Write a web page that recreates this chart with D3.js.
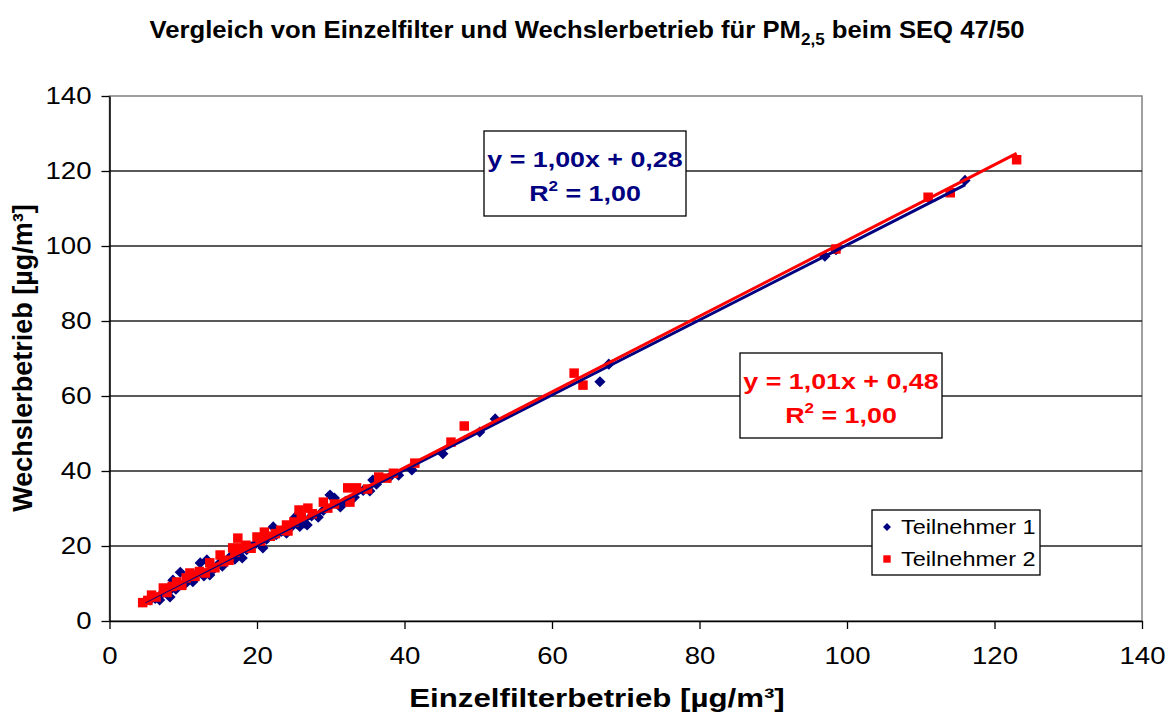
<!DOCTYPE html>
<html>
<head>
<meta charset="utf-8">
<script src="https://cdn.jsdelivr.net/npm/d3@7"></script>
<style>
  body { margin: 0; background: #fff; }
  text { font-family: Arial, "Liberation Sans", sans-serif; }
</style>
</head>
<body>
<div id="canvas"></div>
<script>
"use strict";

// Canvas dimensions
let svgWidth = 1170;
let svgHeight = 714;
let margin = { left: 109.5, right: 28, top: 96, bottom: 93 };

// Data: [Einzelfilter, Wechsler]
let teilnehmer1 = [
    [4.8, 5.2], [5.5, 5.6], [6.2, 6.0], [6.8, 5.6], [7.2, 7.5], [8.0, 7.8], [8.2, 6.4],
    [8.6, 10.9], [9.0, 8.5], [9.6, 13.0], [10.2, 9.8], [10.8, 11.2], [11.3, 10.5],
    [11.8, 12.5], [12.3, 15.5], [12.8, 12.0], [13.2, 16.3], [13.6, 12.3], [14.2, 14.0],
    [14.8, 15.2], [15.3, 14.6], [15.9, 16.0], [16.4, 17.2], [17.0, 16.5], [17.5, 18.3],
    [18.0, 16.8], [18.6, 19.0], [19.2, 19.8], [19.7, 20.4], [20.3, 21.0], [20.8, 19.5],
    [21.3, 21.8], [22.2, 25.1], [22.6, 23.0], [23.3, 23.9], [24.0, 23.4], [24.5, 24.8],
    [25.2, 27.7], [25.4, 26.0], [25.8, 25.2], [26.5, 26.1], [26.8, 25.6], [27.4, 28.0],
    [28.3, 27.7], [29.0, 29.5], [29.9, 33.6], [30.5, 32.8], [31.3, 30.4], [32.0, 31.9],
    [33.2, 33.0], [34.4, 34.8], [35.3, 34.7], [35.7, 37.6], [36.2, 36.5], [38.0, 38.4],
    [39.2, 38.9], [41.0, 40.3], [45.2, 44.6], [50.2, 50.4], [52.3, 53.9], [66.5, 63.8],
    [67.7, 68.5], [97.0, 97.3], [98.5, 99.0], [116.0, 117.5]
];

let teilnehmer2 = [
    [4.5, 4.9], [5.2, 5.5], [5.7, 6.9], [6.3, 6.4], [7.3, 8.8], [7.8, 7.6], [8.5, 9.2],
    [9.1, 10.4], [9.8, 9.5], [10.4, 11.5], [10.9, 12.8], [11.6, 11.9], [12.2, 13.2],
    [13.0, 12.8], [13.6, 15.5], [14.3, 14.2], [15.0, 17.6], [15.5, 15.8], [16.2, 16.2],
    [16.7, 19.5], [17.0, 18.3], [17.4, 22.1], [17.9, 19.5], [18.5, 20.2], [19.2, 19.4],
    [20.0, 22.4], [20.5, 21.3], [21.0, 23.7], [21.8, 22.6], [22.5, 23.3], [23.2, 24.2],
    [24.0, 25.6], [24.2, 24.0], [25.0, 26.4], [25.7, 29.6], [26.0, 27.7], [26.9, 30.1],
    [27.5, 28.6], [29.0, 31.7], [29.6, 30.1], [30.5, 31.2], [32.3, 35.5], [32.6, 31.7],
    [33.5, 35.5], [35.0, 35.2], [36.5, 38.4], [37.6, 38.1], [38.5, 39.4], [41.4, 42.1],
    [46.3, 47.7], [48.1, 52.0], [63.0, 66.1], [64.2, 62.9], [98.5, 99.2], [111.0, 113.0],
    [114.0, 114.2], [123.0, 123.0]
];

// Trend lines: slope, intercept, x range
let trend1 = { slope: 1.00, intercept: 0.28, xMin: 4.8, xMax: 116.0 };
let trend2 = { slope: 1.01, intercept: 0.48, xMin: 4.5, xMax: 123.0 };

let tickValues = [0, 20, 40, 60, 80, 100, 120, 140];

let svg = d3.select("#canvas")
    .append("svg")
    .attr("width", svgWidth)
    .attr("height", svgHeight);

// widen text horizontally (the original looks stretched)
function stretch(sel, s, origin) {
    sel.style("transform-box", "fill-box")
        .style("transform-origin", origin || "center")
        .style("transform", `scaleX(${s})`);
}

// Scales
let xScale = d3.scaleLinear()
    .domain([0, 140])
    .range([margin.left, svgWidth - margin.right]);

let yScale = d3.scaleLinear()
    .domain([0, 140])
    .range([svgHeight - margin.bottom, margin.top]);

let plotW = xScale(140) - xScale(0);
let plotH = yScale(0) - yScale(140);

// Plot border
svg.append("rect")
    .attr("x", xScale(0))
    .attr("y", yScale(140))
    .attr("width", plotW)
    .attr("height", plotH)
    .attr("fill", "white")
    .attr("stroke", "#808080")
    .attr("stroke-width", 1.5);

// Gridlines
svg.selectAll("line.grid")
    .data(tickValues.filter(d => d > 0 && d < 140))
    .join("line")
    .attr("class", "grid")
    .attr("x1", xScale(0))
    .attr("x2", xScale(140))
    .attr("y1", d => yScale(d))
    .attr("y2", d => yScale(d))
    .attr("stroke", "#222")
    .attr("stroke-width", 1.3);

// Axes
let xAxis = svg.append("g")
    .attr("transform", `translate(0,${yScale(0)})`)
    .call(d3.axisBottom(xScale).tickValues(tickValues).tickSize(8).tickSizeOuter(0).tickPadding(19));

let yAxis = svg.append("g")
    .attr("transform", `translate(${xScale(0)},0)`)
    .call(d3.axisLeft(yScale).tickValues(tickValues).tickSize(8).tickSizeOuter(0).tickPadding(10));

[xAxis, yAxis].forEach(a => {
    a.select(".domain").attr("stroke", "#000").attr("stroke-width", 1.5);
    a.selectAll(".tick line").attr("stroke", "#000").attr("stroke-width", 1.3);
    a.selectAll(".tick text")
        .attr("fill", "#000")
        .style("font-family", "Arial, 'Liberation Sans', sans-serif")
        .style("font-size", "23px");
});
stretch(xAxis.selectAll(".tick text"), 1.2, "center");
stretch(yAxis.selectAll(".tick text"), 1.2, "right center");

// Data points: diamonds for Teilnehmer 1, squares for Teilnehmer 2
let diamond = d3.symbol().type(d3.symbolDiamond2).size(80);
let square = d3.symbol().type(d3.symbolSquare).size(90);

svg.selectAll("path.t1")
    .data(teilnehmer1)
    .join("path")
    .attr("class", "t1")
    .attr("transform", d => `translate(${xScale(d[0])},${yScale(d[1])})`)
    .attr("d", diamond)
    .attr("fill", "#000080");

svg.selectAll("path.t2")
    .data(teilnehmer2)
    .join("path")
    .attr("class", "t2")
    .attr("transform", d => `translate(${xScale(d[0])},${yScale(d[1])})`)
    .attr("d", square)
    .attr("fill", "#ff0000");

// Trend lines
[[trend1, "#000080"], [trend2, "#ff0000"]].forEach(([t, c]) => {
    svg.append("line")
        .attr("x1", xScale(t.xMin))
        .attr("y1", yScale(t.slope * t.xMin + t.intercept))
        .attr("x2", xScale(t.xMax))
        .attr("y2", yScale(t.slope * t.xMax + t.intercept))
        .attr("stroke", c)
        .attr("stroke-width", 3);
});

// Equation boxes
function eqBox(x, y, color, eq) {
    let g = svg.append("g").attr("transform", `translate(${x},${y})`);
    g.append("rect")
        .attr("width", 202)
        .attr("height", 85)
        .attr("fill", "white")
        .attr("stroke", "#000")
        .attr("stroke-width", 1.3);
    let t1 = g.append("text")
        .attr("x", 101)
        .attr("y", 36)
        .attr("text-anchor", "middle")
        .attr("fill", color)
        .attr("font-weight", "bold")
        .style("font-size", "22px")
        .text(eq);
    let r = g.append("text")
        .attr("x", 101)
        .attr("y", 70)
        .attr("text-anchor", "middle")
        .attr("fill", color)
        .attr("font-weight", "bold")
        .style("font-size", "22px");
    r.append("tspan").text("R");
    r.append("tspan").attr("dy", -10).style("font-size", "14px").text("2");
    r.append("tspan").attr("dy", 10).text(" = 1,00");
    stretch(t1, 1.22);
    stretch(r, 1.22);
}
eqBox(484, 131, "#000080", "y = 1,00x + 0,28");
eqBox(740, 353, "#ff0000", "y = 1,01x + 0,48");

// Legend
let legend = svg.append("g").attr("transform", "translate(872,510)");
legend.append("rect")
    .attr("width", 168)
    .attr("height", 65)
    .attr("fill", "white")
    .attr("stroke", "#000")
    .attr("stroke-width", 1.3);
legend.append("path")
    .attr("transform", "translate(15,17)")
    .attr("d", d3.symbol().type(d3.symbolDiamond2).size(40))
    .attr("fill", "#000080");
legend.append("path")
    .attr("transform", "translate(15,49)")
    .attr("d", d3.symbol().type(d3.symbolSquare).size(55))
    .attr("fill", "#ff0000");
let l1 = legend.append("text")
    .attr("x", 29).attr("y", 24)
    .style("font-size", "21px")
    .text("Teilnehmer 1");
let l2 = legend.append("text")
    .attr("x", 29).attr("y", 56)
    .style("font-size", "21px")
    .text("Teilnehmer 2");
stretch(l1, 1.12, "left center");
stretch(l2, 1.12, "left center");

// Title
let title = svg.append("text")
    .attr("x", 587)
    .attr("y", 38)
    .attr("text-anchor", "middle")
    .attr("font-weight", "bold")
    .style("font-size", "24px");
title.append("tspan").text("Vergleich von Einzelfilter und Wechslerbetrieb für PM");
title.append("tspan").attr("dy", 7).style("font-size", "16px").text("2,5");
title.append("tspan").attr("dy", -7).text(" beim SEQ 47/50");
stretch(title, 1.07);

// Axis labels
let xLabel = svg.append("text")
    .attr("x", 597)
    .attr("y", 707)
    .attr("text-anchor", "middle")
    .attr("font-weight", "bold")
    .style("font-size", "25px")
    .text("Einzelfilterbetrieb [µg/m³]");
stretch(xLabel, 1.25);

svg.append("text")
    .attr("transform", "rotate(-90)")
    .attr("x", -358)
    .attr("y", 32)
    .attr("text-anchor", "middle")
    .attr("font-weight", "bold")
    .style("font-size", "27px")
    .text("Wechslerbetrieb [µg/m³]");
</script>
</body>
</html>
